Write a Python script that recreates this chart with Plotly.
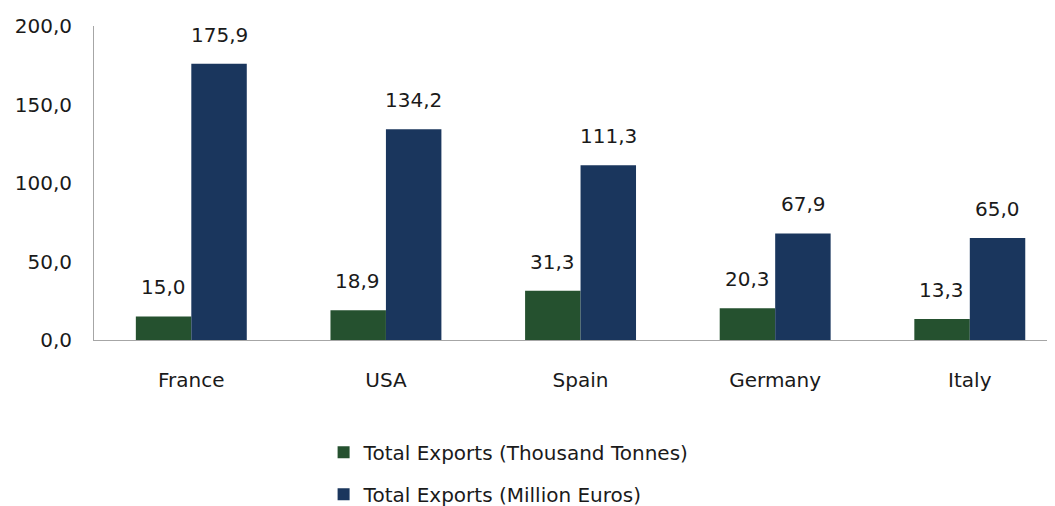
import plotly.graph_objects as go

countries = ["France", "USA", "Spain", "Germany", "Italy"]
tonnes = [15.0, 18.9, 31.3, 20.3, 13.3]
euros = [175.9, 134.2, 111.3, 67.9, 65.0]
series_names = ["Total Exports (Thousand Tonnes)", "Total Exports (Million Euros)"]
y_ticks = [0, 50, 100, 150, 200]

GREEN = "#25512f"
NAVY = "#1a365d"
FONT = "DejaVu Sans"
FS = 20

def fmt(v):
    return f"{v:.1f}".replace(".", ",")

fig = go.Figure()
fig.add_trace(go.Bar(x=countries, y=tonnes, name=series_names[0], marker_color=GREEN,
                     marker_line_width=0, legendgroup="a", offsetgroup="a"))
fig.add_trace(go.Bar(x=countries, y=euros, name=series_names[1], marker_color=NAVY,
                     marker_line_width=0, legendgroup="b", offsetgroup="b"))

# value labels above bars (Excel style, a bit of gap)
anns = []
for i, c in enumerate(countries):
    anns.append(dict(x=i, y=tonnes[i], text=fmt(tonnes[i]), xshift=-28, yshift=29,
                     showarrow=False, font=dict(size=FS, color="#1a1a1a", family=FONT)))
    anns.append(dict(x=i, y=euros[i], text=fmt(euros[i]), xshift=28, yshift=29,
                     showarrow=False, font=dict(size=FS, color="#1a1a1a", family=FONT)))

fig.update_layout(
    width=1063, height=506,
    margin=dict(l=86, r=0, t=18, b=174, autoexpand=False),
    paper_bgcolor="white", plot_bgcolor="white",
    font=dict(family=FONT, size=FS, color="#1a1a1a"),
    barmode="group", bargap=0.43, bargroupgap=0,
    annotations=anns,
    showlegend=True,
    legend=dict(orientation="v", x=0.235, xanchor="left", y=-0.295, yanchor="top",
                tracegroupgap=13, itemwidth=30, font=dict(size=FS, family=FONT)),
    xaxis=dict(range=[-0.5, 4.52], showline=True, linecolor="#a6a6a6", linewidth=1,
               ticks="", showgrid=False, ticklabelstandoff=22, automargin=False),
    yaxis=dict(range=[0, 200], tickvals=y_ticks, ticktext=[fmt(v) for v in y_ticks],
               showline=True, linecolor="#a6a6a6", linewidth=1, ticks="",
               showgrid=False, zeroline=False, ticklabelstandoff=17, automargin=False),
)

fig.write_html("out.html")
